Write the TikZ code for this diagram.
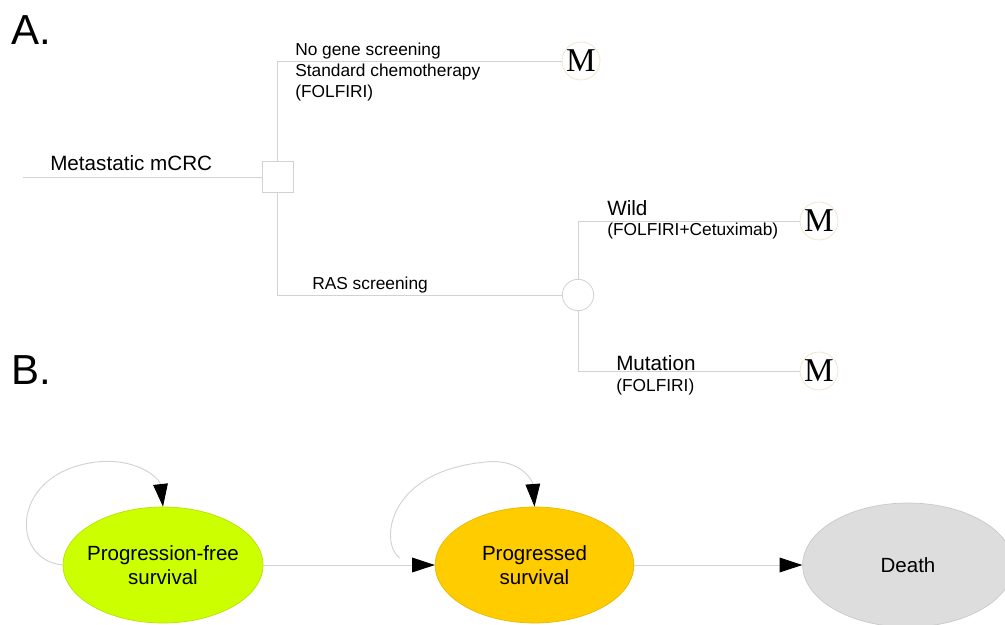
\documentclass[tikz,border=0pt]{standalone}
\usepackage{fontspec}
\setmainfont{Liberation Sans}
\newfontfamily\mfont{Liberation Serif}
\usetikzlibrary{arrows.meta,shapes.geometric,calc}
\definecolor{lgray}{HTML}{D2D2D2}
\definecolor{mborder}{HTML}{EFE6CC}
\definecolor{pfs}{HTML}{CCFF00}
\definecolor{pfsb}{HTML}{B8E000}
\definecolor{ps}{HTML}{FFCC00}
\definecolor{psb}{HTML}{E6B800}
\definecolor{dth}{HTML}{DDDDDD}
\definecolor{dthb}{HTML}{C8C8C8}
\begin{document}
\begin{tikzpicture}[x=0.75pt,y=-0.75pt,
  treeline/.style={draw=lgray,line width=0.7pt},
  decision/.style={rectangle,draw=lgray,fill=white,minimum size=23.25pt,inner sep=0pt,line width=0.7pt},
  chance/.style={circle,draw=lgray,fill=white,minimum size=23.5pt,inner sep=0pt,line width=0.6pt},
  markov/.style={circle,draw=mborder,fill=white,minimum size=28.5pt,inner sep=0pt,line width=0.6pt,font=\mfont\fontsize{25}{25}\selectfont},
  lbl/.style={anchor=west,inner sep=0pt,font=\fontsize{13}{15.75}\selectfont,align=left},
  biglbl/.style={anchor=west,inner sep=0pt,font=\fontsize{15.5}{18}\selectfont},
  panel/.style={anchor=base west,inner sep=0pt,font=\fontsize{31.5}{32}\selectfont},
  state/.style={ellipse,inner sep=0pt,line width=0.5pt},
  statetext/.style={inner sep=0pt,align=center,font=\fontsize{15.4}{17.5}\selectfont},
  trans/.style={draw=lgray,line width=0.7pt,-{Triangle[length=17pt,width=11pt,color=black]}}
]
\useasboundingbox (0,0) rectangle (1005,624);

% Panel labels
\node[panel] (pa) at (11,45) {A.};
\node[panel] (pb) at (11,384) {B.};

% Decision tree
\coordinate (start) at (23,177);
\node[decision] (dec) at (277.5,177) {};
\node[chance] (ch) at (578,295) {};
\node[markov] (m1) at (581,61) {M};
\node[markov] (m2) at (819,221) {M};
\node[markov] (m3) at (819,371) {M};

\draw[treeline] (start) -- (dec.west);
\draw[treeline] (dec.north) |- (m1.west);
\draw[treeline] (dec.south) |- (ch.west);
\draw[treeline] (ch.north) |- (m2.west);
\draw[treeline] (ch.south) |- (m3.west);

\node[biglbl] (tmeta) at (50,163) {Metastatic mCRC};
\node[lbl] (tno) at (295,72) {No gene screening\\Standard chemotherapy\\(FOLFIRI)};
\node[lbl] (tras) at (312,285) {RAS screening};
\node[biglbl] (twild) at (607,208) {Wild};
\node[lbl] (twild2) at (607,231) {(FOLFIRI+Cetuximab)};
\node[biglbl] (tmut) at (616,363) {Mutation};
\node[lbl] (tmut2) at (616,387) {(FOLFIRI)};

% Markov model
\node[state,fill=pfs,draw=pfsb,minimum width=150pt,minimum height=87pt] (e1) at (163,565) {};
\node[statetext] (e1t) at (e1.center) {Progression-free\\survival};
\node[state,fill=ps,draw=psb,minimum width=149pt,minimum height=87pt] (e2) at (534.5,565) {};
\node[statetext] (e2t) at (e2.center) {Progressed\\survival};
\node[state,fill=dth,draw=dthb,minimum width=158pt,minimum height=93pt] (e3) at (908,565) {};
\node[statetext] (e3t) at (e3.center) {Death};

\draw[trans] (e1.east) -- (e2.west);
\draw[trans] (e2.east) -- (e3.west);

\coordinate (l1) at ($(e1.north)+(-63,-45)$);
\draw[trans] (e1.west) .. controls +(-54,-5) and +(-90,8) .. (l1)
  .. controls +(40,-3) and +(-3,-27) .. (e1.north);

\coordinate (s2) at ($(e2.west)+(-35,-7)$);
\coordinate (l2) at ($(e2.north)+(-45,-45)$);
\draw[trans] (s2) .. controls +(-20,-13) and +(-105,8) .. (l2)
  .. controls +(30,-2) and +(-2,-27) .. (e2.north);
\end{tikzpicture}
\end{document}
